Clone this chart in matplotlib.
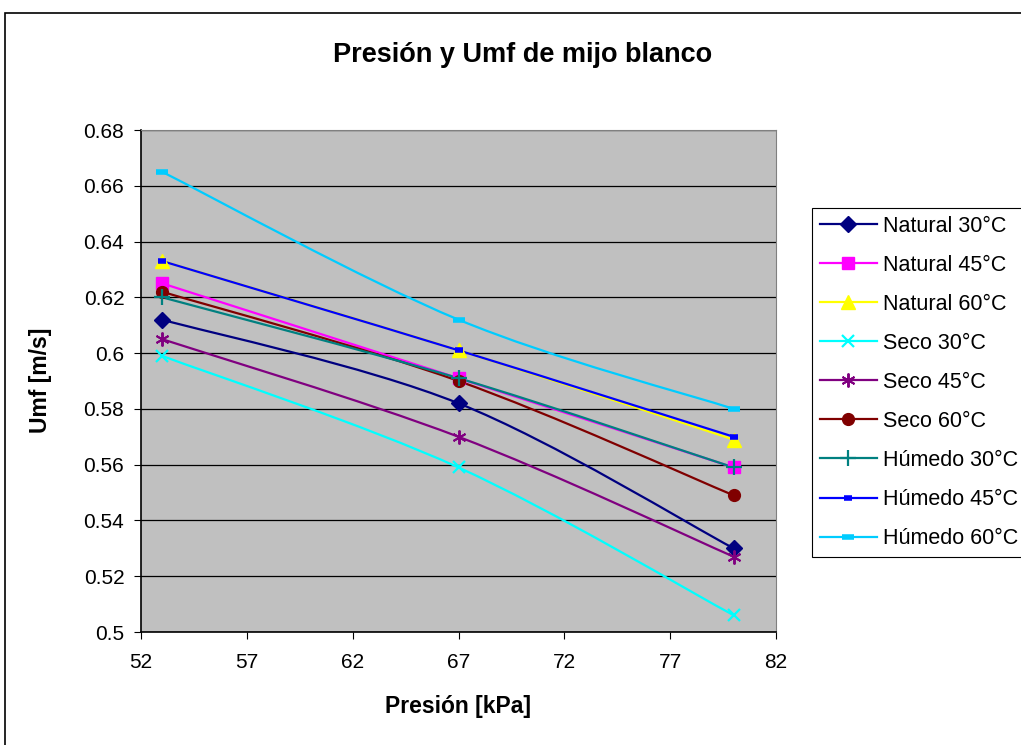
import matplotlib
matplotlib.use("Agg")
import matplotlib.pyplot as plt
import numpy as np
from matplotlib.path import Path
from matplotlib.patches import PathPatch, Rectangle
from matplotlib.lines import Line2D
from matplotlib.ticker import FuncFormatter

plt.rcParams['font.family'] = ['Liberation Sans', 'DejaVu Sans']

# data
presion = [53, 67, 80]
natural_30 = [0.612, 0.582, 0.530]
natural_45 = [0.625, 0.591, 0.559]
natural_60 = [0.633, 0.601, 0.569]
seco_30 = [0.599, 0.559, 0.506]
seco_45 = [0.605, 0.570, 0.527]
seco_60 = [0.622, 0.590, 0.549]
humedo_30 = [0.620, 0.591, 0.559]
humedo_45 = [0.633, 0.601, 0.570]
humedo_60 = [0.665, 0.612, 0.580]

x_ticks = [52, 57, 62, 67, 72, 77, 82]
y_ticks = [0.5, 0.52, 0.54, 0.56, 0.58, 0.6, 0.62, 0.64, 0.66, 0.68]

series = [
    ("Natural 30°C", natural_30, "#000080", dict(marker="D", ms=8)),
    ("Natural 45°C", natural_45, "#FF00FF", dict(marker="s", ms=8)),
    ("Natural 60°C", natural_60, "#FFFF00", dict(marker="^", ms=10)),
    ("Seco 30°C", seco_30, "#00FFFF", dict(marker="x", ms=9, mew=1.6)),
    ("Seco 45°C", seco_45, "#800080", dict(marker=(6, 2, 0), ms=10, mew=1.4)),
    ("Seco 60°C", seco_60, "#800000", dict(marker="o", ms=8.5)),
    ("Húmedo 30°C", humedo_30, "#008080", dict(marker="+", ms=11, mew=1.6)),
    ("Húmedo 45°C", humedo_45, "#0000FF", dict(marker="_", ms=6, mew=4)),
    ("Húmedo 60°C", humedo_60, "#00CCFF", dict(marker="_", ms=9, mew=4)),
]


def smooth_path(x, y):
    # excel-like smoothed line (catmull-rom as bezier)
    pts = np.column_stack([x, y]).astype(float)
    n = len(pts)
    verts = [pts[0]]
    codes = [Path.MOVETO]
    for i in range(n - 1):
        p0 = pts[max(i - 1, 0)]
        p1 = pts[i]
        p2 = pts[i + 1]
        p3 = pts[min(i + 2, n - 1)]
        verts += [p1 + (p2 - p0) / 6, p2 - (p3 - p1) / 6, p2]
        codes += [Path.CURVE4] * 3
    return Path(verts, codes)


fig = plt.figure(figsize=(10.21, 7.45), dpi=100)
fig.patches.append(Rectangle((5 / 1021, -0.01), 1.1, 1 - 13 / 745 + 0.01,
                             transform=fig.transFigure, fill=False,
                             edgecolor="black", lw=1.2))

ax = fig.add_axes([141 / 1021, 1 - 632 / 745, 635 / 1021, 502 / 745])
ax.set_facecolor("#C0C0C0")

handles = []
for name, vals, col, mk in series:
    ax.add_patch(PathPatch(smooth_path(presion, vals), fill=False,
                           edgecolor=col, lw=1.6, zorder=3))
    ax.plot(presion, vals, linestyle="none", color=col, mec=col, mfc=col,
            zorder=4, **mk)
    handles.append(Line2D([0], [0], color=col, lw=1.6, mec=col, mfc=col,
                          label=name, **mk))

ax.set_xlim(52, 82)
ax.set_ylim(0.5, 0.68)
ax.set_xticks(x_ticks)
ax.set_yticks(y_ticks)
ax.yaxis.set_major_formatter(FuncFormatter(lambda v, p: f"{round(v, 2):g}"))
ax.yaxis.grid(True, color="black", lw=0.9)
ax.set_axisbelow(True)
ax.tick_params(axis="both", labelsize=15, direction="out", length=5,
               color="black")
ax.tick_params(axis="x", pad=10)
ax.tick_params(axis="y", pad=7)
for s in ["top", "right"]:
    ax.spines[s].set_color("#808080")
for s in ["left", "bottom"]:
    ax.spines[s].set_color("black")
    ax.spines[s].set_linewidth(1.2)

fig.text(523 / 1021, 1 - 55 / 745, "Presión y Umf de mijo blanco",
         ha="center", va="center", fontsize=19.5, fontweight="bold")
fig.text(458 / 1021, 1 - 707 / 745, "Presión [kPa]", ha="center",
         va="center", fontsize=16.5, fontweight="bold")
fig.text(40 / 1021, 1 - 380 / 745, "Umf [m/s]", ha="center", va="center",
         rotation=90, fontsize=16.5, fontweight="bold")

leg = fig.legend(handles=handles, loc="upper left",
                 bbox_to_anchor=(812 / 1021, 1 - 208 / 745),
                 fontsize=15.5, frameon=True, fancybox=False,
                 edgecolor="black", framealpha=1, borderpad=0.35,
                 labelspacing=0.84, handlelength=2.65, handletextpad=0.28,
                 borderaxespad=0)
leg.get_frame().set_linewidth(0.8)

fig.savefig("out.png", dpi=100)
